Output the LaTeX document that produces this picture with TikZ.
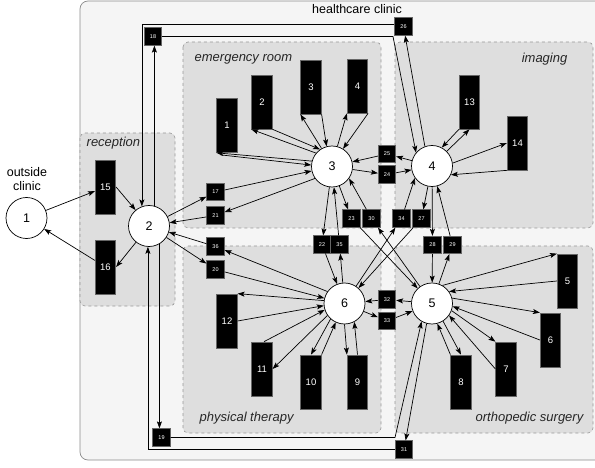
\documentclass[tikz,border=0pt]{standalone}
\usepackage{fontspec}
\setmainfont{Liberation Sans}
\usetikzlibrary{arrows.meta, automata}

\begin{document}
\begin{tikzpicture}[
            x = 1pt, y = -1pt, % work on the pixel grid
            > = {Stealth[length=7pt, width=5pt, inset=1.5pt]}, % arrow head style
            line width = 0.7pt, % line style
            font = \fontsize{12.5}{14}\selectfont
        ]

        \tikzstyle{every state}=[
            draw = black,
            fill = white,
            line width = 0.7pt,
            minimum size = 41pt,
            inner sep = 0pt
        ]
        \tikzstyle{zone}=[draw = black!40, dashed, fill = black!13, rounded corners = 5pt, line width = 0.6pt]
        \tikzstyle{zonelabel}=[font = \fontsize{13}{15}\selectfont\itshape, text = black!85]
        \tikzstyle{bigbox}=[draw = black!60, fill = black, text = white, minimum width = 20.5pt,
            minimum height = 54pt, inner sep = 0pt, font = \fontsize{9.5}{11}\selectfont]
        \tikzstyle{smallbox}=[draw = black!60, fill = black, text = white, minimum size = 17.5pt,
            inner sep = 0pt, font = \fontsize{5.5}{6}\selectfont]

        \useasboundingbox (0,0) rectangle (595,468);

        % clinic and its departments
        \draw[draw = black!45, fill = black!4, rounded corners = 8pt] (80,1) rectangle (610,460);
        \node (clinic) at (357,9) {healthcare clinic};
        \draw[zone] (80,133) rectangle (175,306);
        \draw[zone] (183,42) rectangle (381,228);
        \draw[zone] (395,42) rectangle (593,228);
        \draw[zone] (183,246) rectangle (381,433);
        \draw[zone] (395,246) rectangle (593,433);
        \node[zonelabel, anchor = west] (reception) at (83,143) {reception};
        \node[zonelabel, anchor = west] (er) at (191,59) {emergency room};
        \node[zonelabel, anchor = east] (imaging) at (571,59) {imaging};
        \node[zonelabel, anchor = west] (pt) at (196,418) {physical therapy};
        \node[zonelabel, anchor = east] (os) at (587,418) {orthopedic surgery};
        \node[align = center] (outside) at (27,179) {outside\\clinic};

        % places
        \node[state] (c1) at (26.5,218) {1};
        \node[state] (c2) at (149,226) {2};
        \node[state] (c3) at (332,166.5) {3};
        \node[state] (c4) at (432,166) {4};
        \node[state] (c5) at (432,303.5) {5};
        \node[state] (c6) at (344.5,303.5) {6};

        % activities
        \foreach \n/\x/\y in {1/227/125.5, 2/262/102, 3/311/87, 4/357.5/86,
                5/567.5/281, 6/550.5/340, 7/506/369, 8/461/382,
                9/357.5/382, 10/311/382, 11/262/369, 12/227/321,
                13/469.5/102, 14/517.5/143, 15/105.5/187, 16/105.5/267}
            \node[bigbox] (b\n) at (\x,\y) {\n};

        % transfers
        \foreach \n/\x/\y in {17/215.5/192, 18/153/36.5, 19/161.5/437.5, 20/215.5/269.5,
                21/215.5/215.5, 22/322/244.5, 23/351.5/218.5, 24/387/174.5,
                25/387/154, 26/403.5/26.5, 27/421.5/218.5, 28/432.5/245,
                29/452.5/245, 30/371.5/218.5, 31/404/449.5, 32/387/299.5,
                33/387/321, 34/401.5/218.5, 35/339.5/244.5, 36/215.5/246.5}
            \node[smallbox] (s\n) at (\x,\y) {\n};

        \coordinate (k18) at (393,36.5);
        \coordinate (k19) at (395,437.5);

        \foreach \a/\b in {c1/b15, b16/c1, c2/s17, s17/c3, s21/c2, s36/c2, c2/s20, s20/c6,
                c3/s24, s24/c4, c4/s25, s25/c3, c3/s23, s23/c5, c5/s30,
                c3/s22, s22/c6, c6/s35, s35/c3, c6/s34, c4/s27, s27/c6,
                c4/s28, s28/c5, c5/s29, s29/c4, c5/s32, s32/c6, c6/s33, s33/c5}
            \draw[->] (\a) -- (\b);

        \draw[->] (b15.east) -- (c2);
        \draw[->] (c2) -- (b16.east);
        \draw[->] (c3.215) -- (s21);
        \draw[->] (c6.145) -- (s36);
        \draw[->] (s30) -- (c3.-35);
        \draw[->] (s34) -- (c4.-145);

        % long ways round
        \draw[->] (c2.75) -- (c2.75 |- s18.south);
        \draw[->] (s18.east) -- (k18) -- (c4.140);
        \draw[->] (c4.110) -- (s26);
        \draw[->] ([yshift=2.5pt]s26.west) -| (c2.110);
        \draw[->] (c2.-60) -- (c2.-60 |- s19.north);
        \draw[->] (s19.east) -- (k19) -- (c5.-120);
        \draw[->] (c5.-105) -- (s31);
        \draw[->] (s31.west) -| (c2.-93);

        % emergency room
        \draw[->] (c3.165) -- (b1.south west);
        \draw[->] ([xshift=4pt, yshift=-2pt]b1.south west) -- (c3.176);
        \draw[->] (c3.140) -- (b2.south west);
        \draw[->] (b2.south east) -- (c3.125);
        \draw[->] (c3.120) -- (b3.south west);
        \draw[->] (b3.south east) -- (c3.105);
        \draw[->] (c3.75) -- (b4.south west);
        \draw[->] (b4.south east) -- (c3.58);

        % imaging
        \draw[->] (c4.45) -- (b13.south);
        \draw[->] (b13.south west) -- (c4.62);
        \draw[->] (c4.8) -- (b14.west);
        \draw[->] (b14.south west) -- (c4.-25);

        % physical therapy
        \draw[->] (c6.172) -- (b12.north east);
        \draw[->] (b12.east) -- (c6.186);
        \draw[->] (c6.215) -- (b11.east);
        \draw[->] ([xshift=2pt]b11.north) -- (c6.198);
        \draw[->] (c6.228) -- (b10.north);
        \draw[->] (b10.north east) -- (c6.245);
        \draw[->] (c6.-90) -- (b9.north west);
        \draw[->] (b9.north) -- (c6.-62);

        % orthopedic surgery
        \draw[->] (c5.60) -- (b5.north west);
        \draw[->] (b5.west) -- (c5.35);
        \draw[->] (c5.15) -- (b6.north west);
        \draw[->] (b6.west) -- (c5.-8);
        \draw[->] (c5.-20) -- (b7.north west);
        \draw[->] (b7.west) -- (c5.-35);
        \draw[->] (c5.-58) -- (b8.north);
        \draw[->] (b8.north west) -- (c5.-75);

  \end{tikzpicture}
\end{document}
